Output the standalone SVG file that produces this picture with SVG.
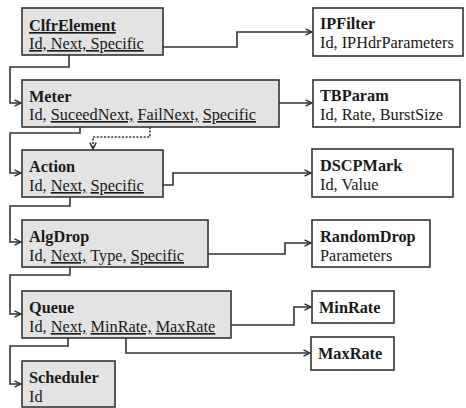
<svg xmlns="http://www.w3.org/2000/svg" width="466" height="408" viewBox="0 0 466 408">
  <style>
    .cls rect { stroke: #333; stroke-width: 1.6; }
    .base rect { fill: #e3e3e3; }
    .param rect { fill: #ffffff; }
    text { font-family: "Liberation Serif", "Times New Roman", serif; font-size: 16.3px; fill: #1a1a1a; }
    .t { font-weight: bold; }
    .u { text-decoration: underline; }
    .wire { fill: none; stroke: #333; stroke-width: 1.6; }
    .dash { stroke-dasharray: 2 1.6; }
  </style>
  <defs>
    <marker id="arr" viewBox="0 0 8 8" refX="7.5" refY="4" markerWidth="8" markerHeight="8" markerUnits="userSpaceOnUse" orient="auto">
      <path d="M1,0.8 L7.5,4 L1,7.2" fill="none" stroke="#333" stroke-width="1.5"/>
    </marker>
  </defs>

  <!-- connectors -->
  <g id="connectors">
    <path class="wire" d="M163,47 H237 V32 H312" marker-end="url(#arr)"/>
    <path class="wire" d="M69,55 V67 H10 V103 H21" marker-end="url(#arr)"/>
    <path class="wire" d="M279,103 H312" marker-end="url(#arr)"/>
    <path class="wire" d="M80,127 V133 H10 V173 H21" marker-end="url(#arr)"/>
    <path class="wire dash" d="M150,127 V137 H93 V149" marker-end="url(#arr)"/>
    <path class="wire" d="M163,185 H173 V173 H311" marker-end="url(#arr)"/>
    <path class="wire" d="M70,197 V206 H10 V242 H21" marker-end="url(#arr)"/>
    <path class="wire" d="M208,254 H285 V243 H311" marker-end="url(#arr)"/>
    <path class="wire" d="M70,267 V275 H10 V314 H21" marker-end="url(#arr)"/>
    <path class="wire" d="M231,325 H294 V307 H311" marker-end="url(#arr)"/>
    <path class="wire" d="M126,338 V353 H310" marker-end="url(#arr)"/>
    <path class="wire" d="M68,338 V346 H10 V384 H21" marker-end="url(#arr)"/>
  </g>

  <!-- element classes -->
  <g id="ClfrElement" class="cls base">
    <rect x="22" y="8" width="141" height="47"/>
    <text x="29" y="31" class="t u">ClfrElement</text>
    <text x="29" y="49" class="u">Id, Next, Specific</text>
  </g>
  <g id="Meter" class="cls base">
    <rect x="22" y="80" width="257" height="47"/>
    <text x="29" y="102" class="t">Meter</text>
    <text x="29" y="120">Id, <tspan class="u">SuceedNext,</tspan> <tspan class="u">FailNext,</tspan> <tspan class="u">Specific</tspan></text>
  </g>
  <g id="Action" class="cls base">
    <rect x="22" y="150" width="141" height="47"/>
    <text x="29" y="172" class="t">Action</text>
    <text x="29" y="191">Id, <tspan class="u">Next,</tspan> <tspan class="u">Specific</tspan></text>
  </g>
  <g id="AlgDrop" class="cls base">
    <rect x="22" y="220" width="186" height="47"/>
    <text x="29" y="242" class="t">AlgDrop</text>
    <text x="29" y="261">Id, <tspan class="u">Next,</tspan> Type, <tspan class="u">Specific</tspan></text>
  </g>
  <g id="Queue" class="cls base">
    <rect x="22" y="291" width="209" height="47"/>
    <text x="29" y="313" class="t">Queue</text>
    <text x="29" y="332">Id, <tspan class="u">Next,</tspan> <tspan class="u">MinRate,</tspan> <tspan class="u">MaxRate</tspan></text>
  </g>
  <g id="Scheduler" class="cls base">
    <rect x="22" y="361" width="93" height="46"/>
    <text x="29" y="383" class="t">Scheduler</text>
    <text x="29" y="402">Id</text>
  </g>

  <!-- parameter classes -->
  <g id="IPFilter" class="cls param">
    <rect x="313" y="8" width="150" height="48"/>
    <text x="320" y="29" class="t">IPFilter</text>
    <text x="320" y="48">Id, IPHdrParameters</text>
  </g>
  <g id="TBParam" class="cls param">
    <rect x="313" y="80" width="147" height="47"/>
    <text x="320" y="101" class="t">TBParam</text>
    <text x="320" y="120">Id, Rate, BurstSize</text>
  </g>
  <g id="DSCPMark" class="cls param">
    <rect x="312" y="149" width="141" height="48"/>
    <text x="320" y="171" class="t">DSCPMark</text>
    <text x="320" y="190">Id, Value</text>
  </g>
  <g id="RandomDrop" class="cls param">
    <rect x="312" y="220" width="118" height="47"/>
    <text x="320" y="242" class="t">RandomDrop</text>
    <text x="320" y="261">Parameters</text>
  </g>
  <g id="MinRate" class="cls param">
    <rect x="312" y="291" width="82" height="32"/>
    <text x="319" y="313" class="t">MinRate</text>
  </g>
  <g id="MaxRate" class="cls param">
    <rect x="311" y="337" width="83" height="33"/>
    <text x="318" y="359" class="t">MaxRate</text>
  </g>
</svg>
